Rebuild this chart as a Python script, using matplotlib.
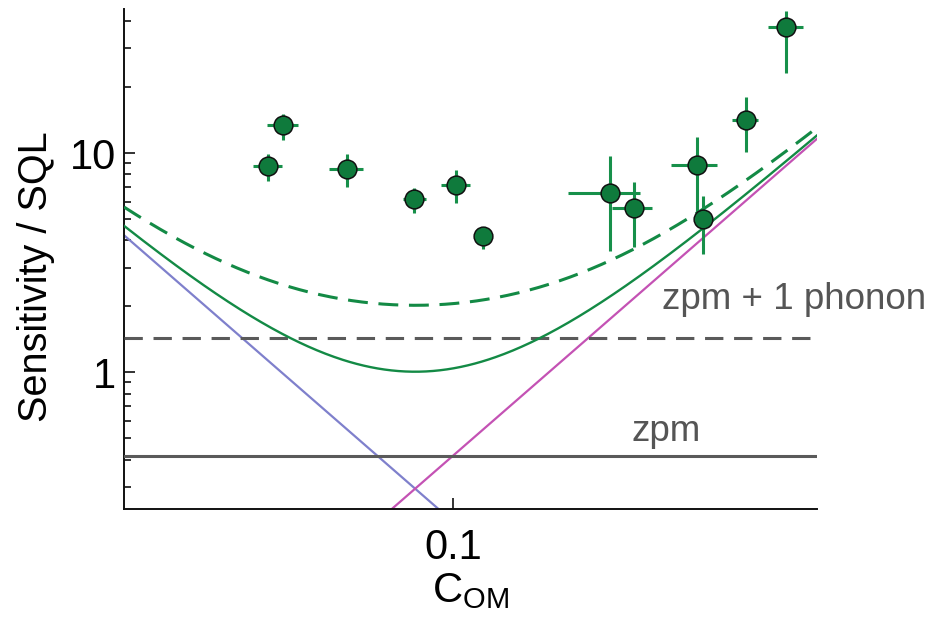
import numpy as np
import matplotlib
matplotlib.use("Agg")
import matplotlib.pyplot as plt
from matplotlib.ticker import FixedLocator, NullFormatter, NullLocator

plt.rcParams['font.family'] = ['Liberation Sans', 'DejaVu Sans']
plt.rcParams['mathtext.fontset'] = 'custom'
plt.rcParams['mathtext.rm'] = 'Liberation Sans'

# Measured sensitivity (in units of the SQL) versus optomechanical cooperativity
c_om = [0.01845, 0.02115, 0.03776, 0.0700, 0.1025, 0.1315,
        0.4186, 0.5226, 0.9245, 0.982, 1.450, 2.09]
c_lo = [0.01607, 0.01817, 0.03212, 0.06298, 0.0894, 0.1218,
        0.2860, 0.4253, 0.7292, 0.9296, 1.273, 1.778]
c_hi = [0.02095, 0.02427, 0.04370, 0.07771, 0.1165, 0.1420,
        0.5507, 0.6162, 1.110, 1.037, 1.623, 2.448]
sens = [8.73, 13.36, 8.43, 6.16, 7.13, 4.18,
        6.58, 5.59, 8.79, 4.995, 14.08, 37.4]
sens_lo = [7.46, 11.42, 7.01, 5.34, 5.89, 3.64,
           3.58, 3.74, 5.21, 3.46, 10.1, 23.1]
sens_hi = [9.94, 15.0, 9.94, 6.96, 8.41, 4.61,
           9.73, 7.38, 11.83, 6.36, 17.97, 44.56]

# Noise model: imprecision ~ 1/C, back-action ~ C, plus added noise floors
imprecision_coeff = 0.0208
backaction_coeff = 4.18
zpm_level = 0.417
zpm_one_phonon_level = 1.432

x_limits = (0.00493, 2.77)
y_limits = (0.239, 45.2)

fig = plt.figure(figsize=(9.34, 6.26), dpi=100)
ax = fig.add_axes([0.1328, 0.1874, 0.8744 - 0.1328, 0.9851 - 0.1874])
ax.set_xscale('log')
ax.set_yscale('log')
ax.set_xlim(*x_limits)
ax.set_ylim(*y_limits)

c = np.geomspace(x_limits[0], x_limits[1], 400)
imprecision = imprecision_coeff / c
backaction = backaction_coeff * c

ax.plot(c, imprecision, color='#7f80cc', lw=1.6, zorder=2)
ax.plot(c, backaction, color='#c452b4', lw=1.6, zorder=2)

ax.axhline(zpm_level, color='#5a5a5a', lw=2.2, zorder=3)
ax.axhline(zpm_one_phonon_level, color='#5a5a5a', lw=2.2,
           dashes=(6, 3.5), zorder=3)

ax.plot(c, imprecision + backaction + zpm_level, color='#138a45', lw=1.7, zorder=4)
ax.plot(c, imprecision + backaction + zpm_one_phonon_level, color='#138a45',
        lw=2.2, dashes=(6.5, 3.5), zorder=4)

xerr = [np.subtract(c_om, c_lo), np.subtract(c_hi, c_om)]
yerr = [np.subtract(sens, sens_lo), np.subtract(sens_hi, sens)]
ax.errorbar(c_om, sens, xerr=xerr, yerr=yerr, fmt='o', color='#0f7a3c',
            ecolor='#17904a', elinewidth=2.2, capsize=0, markersize=13.5,
            markerfacecolor='#0f7a3c', markeredgecolor='#111111',
            markeredgewidth=1.1, zorder=5, clip_on=False)

ax.text(0.673, 2.14, 'zpm + 1 phonon', fontsize=26.5, color='#555555',
        ha='left', va='center', clip_on=False)
ax.text(0.512, 0.537, 'zpm', fontsize=26.5, color='#555555',
        ha='left', va='center')

for side in ('top', 'right'):
    ax.spines[side].set_visible(False)
for side in ('left', 'bottom'):
    ax.spines[side].set_linewidth(1.4)
    ax.spines[side].set_color('#111111')

ax.xaxis.set_major_locator(FixedLocator([0.1]))
ax.xaxis.set_minor_locator(NullLocator())
ax.set_xticklabels(['0.1'])
ax.yaxis.set_major_locator(FixedLocator([1, 10]))
ax.set_yticklabels(['1', '10'])
ax.yaxis.set_minor_locator(FixedLocator(
    [m * d for d in (0.1, 1, 10) for m in range(2, 10)]))
ax.yaxis.set_minor_formatter(NullFormatter())
ax.tick_params(which='major', direction='in', length=8, width=1.2,
               labelsize=30, pad=6, color='#111111')
ax.tick_params(axis='x', which='major', pad=14)
ax.tick_params(which='minor', direction='in', length=5, width=1.2,
               color='#111111')

ax.set_xlabel(r'$\mathregular{C_{OM}}$', fontsize=30, labelpad=2)
ax.set_ylabel('Sensitivity / SQL', fontsize=28.5)
ax.yaxis.set_label_coords(-0.1, 0.465)

fig.savefig('out.png', dpi=100)
